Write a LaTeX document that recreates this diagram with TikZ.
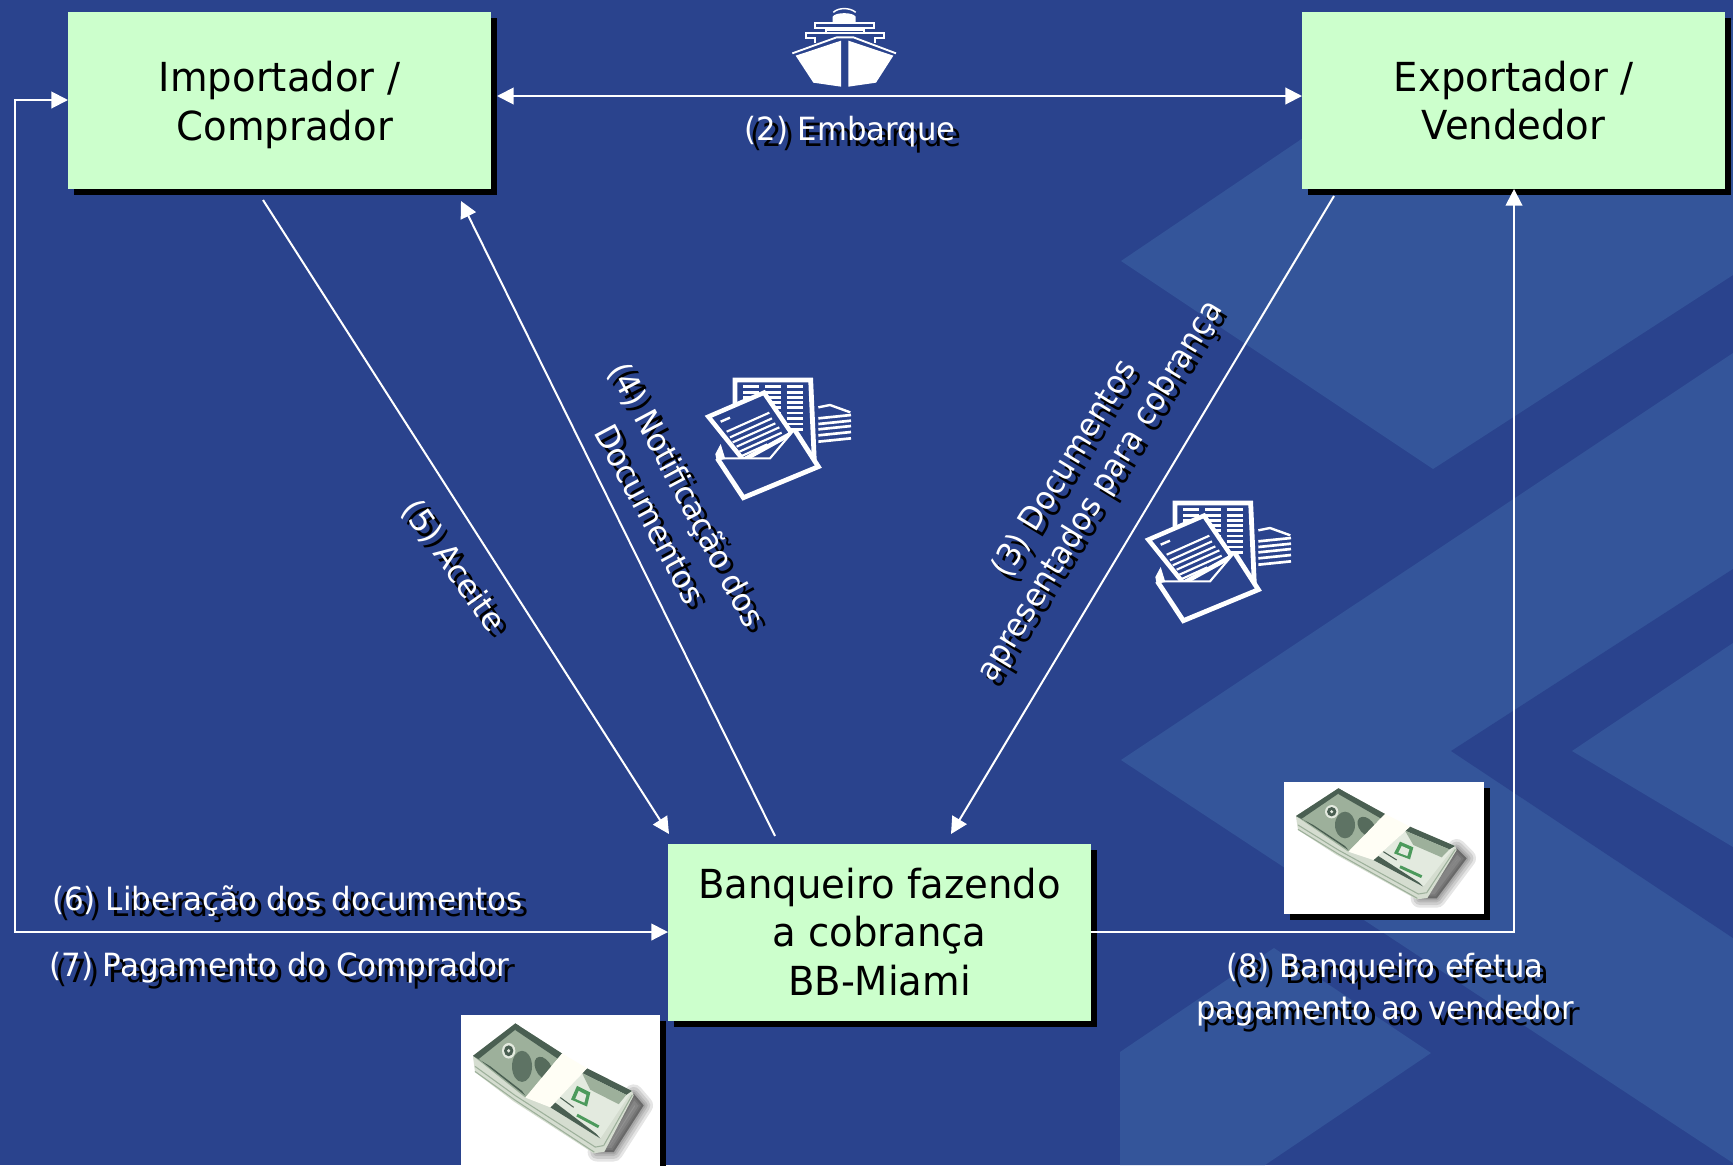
\documentclass[tikz,border=0pt]{standalone}
\usepackage{fontspec}
\setmainfont{DejaVu Sans}
\newfontfamily\boxfont[FakeStretch=0.965]{DejaVu Sans}
\usetikzlibrary{arrows.meta,shadows}
\definecolor{bgdark}{HTML}{2A438D}
\definecolor{bglight}{HTML}{34559A}
\definecolor{boxgreen}{HTML}{CCFFCC}
\definecolor{mgreen}{HTML}{9DB09B}
\definecolor{mdark}{HTML}{4A5F52}
\definecolor{mlight}{HTML}{D5DDD0}
\definecolor{mpale}{HTML}{E3EADF}
\definecolor{mink}{HTML}{4C9A5C}
\tikzset{
 partybox/.style={draw=none,fill=boxgreen,minimum width=317.25pt,minimum height=132.75pt,inner sep=0pt,align=center,
   font=\boxfont\fontsize{30}{36.5}\selectfont,text=black,
   drop shadow={shadow xshift=4.5pt,shadow yshift=-4.5pt,fill=black,opacity=1}},
 flow/.style={draw=white,line width=1.5pt},
 tip/.style={-{Triangle[length=12.5pt,width=12.5pt,fill=white]}},
 biptip/.style={{Triangle[length=12.5pt,width=12.5pt,fill=white]}-{Triangle[length=12.5pt,width=12.5pt,fill=white]}},
 lab/.style={align=center,inner sep=0pt,font=\fontsize{24}{31.5}\selectfont},
 wline/.style={draw=white,line width=#1},
}
% name, x, y, angle, xscale, text
\newcommand{\shlabel}[6]{%
 \begin{scope}[shift={(#2+6,#3+6)},rotate=#4,xscale=#5,transform shape]
  \node[lab,text=black] (#1s) at (0,0) {#6};
 \end{scope}
 \begin{scope}[shift={(#2,#3)},rotate=#4,xscale=#5,transform shape]
  \node[lab,text=white] (#1) at (0,0) {#6};
 \end{scope}}
% document icon, drawn in units of a third of a pixel
\newcommand{\docicon}[2]{%
 \begin{scope}[shift={(#1,#2)},x=.25pt,y=-.25pt]
  \draw[wline=3.6pt,line join=miter] (165,175)--(165,90)--(392,90)--(403,335);
  \foreach \yy in {110,127,143,158,173,189,205,222,238}{
    \draw[wline=2pt] (320,\yy)--(370,\yy);
    \draw[wline=2pt] (255,\yy)--(303,\yy);
    \draw[wline=2pt] (190,\yy)--(238,\yy);}
  \draw[wline=1.8pt] (415,172)--(450,165)--(511,187);
  \foreach \yy in {205,222,238,256,275}{\draw[wline=2pt] (415,\yy)--(513,\yy-10);}
  \draw[wline=3.4pt,fill=bgdark,line join=miter] (85,200)--(252,128)--(335,250)--(190,330)--cycle;
  \draw[wline=1.8pt] (122,215)--(150,203);
  \draw[wline=1.6pt] (140,245)--(268,188);
  \draw[wline=1.6pt] (150,262)--(276,205);
  \draw[wline=1.6pt] (158,277)--(286,220);
  \draw[wline=1.6pt] (170,290)--(298,232);
  \draw[wline=1.6pt] (178,305)--(305,248);
  \draw[wline=1.6pt] (185,318)--(262,283);
  \fill[bgdark] (120,327)--(268,327)--(342,240)--(420,350)--(190,450)--cycle;
  \fill[white] (122,282)--(106,312)--(110,332)--(136,327)--cycle;
  \draw[wline=3.6pt,line join=miter] (112,325)--(190,443)--(415,350)--(343,238);
  \draw[wline=1.6pt] (118,325)--(270,325)--(342,240);
 \end{scope}}
% money bundle: x, y of origin, vertical stretch
\newcommand{\moneybundle}[3]{%
 \begin{scope}[shift={(#1,#2)},x=.25pt,y=-.25pt,yscale=#3]
  \foreach \ww in {14pt,10pt,6pt,3pt}{
   \draw[black,opacity=.10,line width=\ww,line join=round,fill=black] (450,385)--(500,385)--(590,265)--(560,235)--cycle;}
  \fill[mlight] (78,140)--(84,180)--(200,255)--(440,388)--(472,384)--(560,240)--(555,228)--cycle;
  \draw[mgreen,line width=.8pt] (84,165)--(205,240)--(445,372)--(470,368);
  \draw[mgreen,line width=.8pt] (84,178)--(205,252)--(442,385);
  \draw[mgreen,line width=.8pt] (470,368)--(556,238);
  % left half of the note
  \fill[mgreen] (78,138)--(205,55)--(345,132)--(235,245)--cycle;
  \fill[mdark] (78,138)--(205,55)--(218,62)--(95,146)--cycle;
  \fill[mdark] (205,55)--(345,132)--(332,145)--(205,72)--cycle;
  \fill[mdark,opacity=.75] (225,165) ellipse [x radius=30,y radius=40];
  \fill[mdark,opacity=.85,rotate around={-50:(290,170)}] (290,170) ellipse [x radius=34,y radius=22];
  \fill[mdark] (78,138)--(95,146)--(235,240)--(225,228)--(130,165)--cycle;
  \fill[mpale] (185,125) circle [radius=20];
  \fill[mdark] (185,125) circle [radius=14];
  \fill[mpale] (185,125) circle [radius=5];
  % right half of the note
  \fill[mpale] (420,170)--(555,228)--(460,350)--(310,270)--cycle;
  \fill[mdark] (420,170)--(555,228)--(538,238)--(405,182)--cycle;
  \fill[mdark] (310,270)--(460,350)--(448,338)--(325,258)--cycle;
  \fill[mgreen] (405,182)--(538,238)--(515,262)--(430,225)--cycle;
  \fill[mink] (372,250)--(390,215)--(430,232)--(420,268)--cycle;
  \fill[mpale] (385,248)--(395,228)--(418,238)--(412,258)--cycle;
  \draw[mink,line width=2.2pt] (390,290)--(455,320);
  \draw[mdark,line width=.8pt] (340,245)--(380,270);
  % paper band
  \fill[white!96!yellow] (345,132)--(420,170)--(310,270)--(235,245)--cycle;
 \end{scope}}
\begin{document}
\begin{tikzpicture}[x=.75pt,y=-.75pt]
\useasboundingbox (0,0) rectangle (1733,1165);
\clip (0,0) rectangle (1733,1165);
% background
\fill[bgdark] (0,0) rectangle (1733,1165);
\fill[bglight] (1121,261)--(1306,136)--(1306,20)--(1733,20)--(1733,275)--(1433,469)--cycle;
\fill[bglight] (1121,760)--(1733,353)--(1733,1163)--cycle;
\fill[bgdark] (1451,751)--(1733,569)--(1733,938)--cycle;
\fill[bglight] (1572,751)--(1733,643)--(1733,847)--cycle;
\fill[bglight] (1120,1052)--(1274,948)--(1431,1053)--(1265,1165)--(1120,1165)--cycle;
% money pictures
\fill[black] (1290,788) rectangle (1490,920);
\fill[white] (1284,782) rectangle (1484,914);
\moneybundle{1270}{770}{1}
\fill[black] (467,1021) rectangle (666,1180);
\fill[white] (461,1015) rectangle (660,1180);
\moneybundle{447}{1002}{1.17}
% party boxes
\node[partybox] (imp) at (279.5,100.5) {Importador /\\\smash{\hspace*{8pt}Comprador}};
\node[partybox] (exp) at (1513.5,100.5) {Exportador /\\Vendedor};
\node[partybox] (ban) at (879.5,932) {Banqueiro fazendo\\a cobrança\\BB-Miami};
% connector ends
\coordinate (impE) at (497,96);
\coordinate (expW) at (1302,96);
\coordinate (impW) at (68,100);
\coordinate (lt) at (15,100);
\coordinate (lb) at (15,932);
\coordinate (banW) at (668,932);
\coordinate (banE) at (1091,932);
\coordinate (rb) at (1514,932);
\coordinate (expS) at (1514,189);
\coordinate (a5) at (263,200);
\coordinate (b5) at (669,834);
\coordinate (a4) at (775,836);
\coordinate (b4) at (461,201);
\coordinate (a3) at (1334,196);
\coordinate (b3) at (951,834);
\draw[flow,biptip] (impE)--(expW);
\draw[flow,biptip] (banW)--(lb)--(lt)--(impW);
\draw[flow,tip] (banE)--(rb)--(expS);
\draw[flow,tip] (a5)--(b5);
\draw[flow,tip] (a4)--(b4);
\draw[flow,tip] (a3)--(b3);
% ship
\begin{scope}[shift={(680,0)},x=.25pt,y=-.25pt]
 \fill[white] (347,167)--(483,122)--(483,260)--(400,248)--cycle;
 \fill[white] (505,122)--(640,167)--(588,248)--(505,260)--cycle;
 \draw[wline=1.4pt] (337,160)--(470,112)--(520,112)--(648,160);
 \draw[wline=1.6pt] (405,130)--(405,113)--(378,113)--(378,98)--(611,98)--(611,113)--(585,113)--(585,130);
 \draw[wline=1.6pt] (405,70) rectangle (582,84);
 \draw[wline=1.6pt] (437,84)--(437,98) (552,84)--(552,98);
 \draw[wline=1.2pt] (437,90)--(552,90);
 \fill[white] (458,70)--(458,50) .. controls (465,36) and (520,36) .. (527,50)--(527,70)--cycle;
 \draw[wline=1.1pt] (460,37) .. controls (475,22) and (510,22) .. (527,37);
\end{scope}
% document icons
\docicon{680}{350}
\docicon{1120}{473}
% labels
\shlabel{l2}{850}{132}{0}{.96}{(2) Embarque}
\shlabel{l3}{1083}{480}{58.5}{.96}{(3) Documentos\\apresentados para cobrança}
\shlabel{l4}{669}{504}{-62}{.975}{(4) Notificação dos\\Documentos}
\shlabel{l5}{453}{566}{-54.5}{.99}{(5) Aceite}
\shlabel{l6}{287.5}{901}{0}{.968}{(6) Liberação dos documentos}
\shlabel{l7}{279.5}{968}{0}{.968}{(7) Pagamento do Comprador}
\shlabel{l8}{1385}{990}{0}{.956}{(8) Banqueiro efetua\\pagamento ao vendedor}
\end{tikzpicture}
\end{document}
